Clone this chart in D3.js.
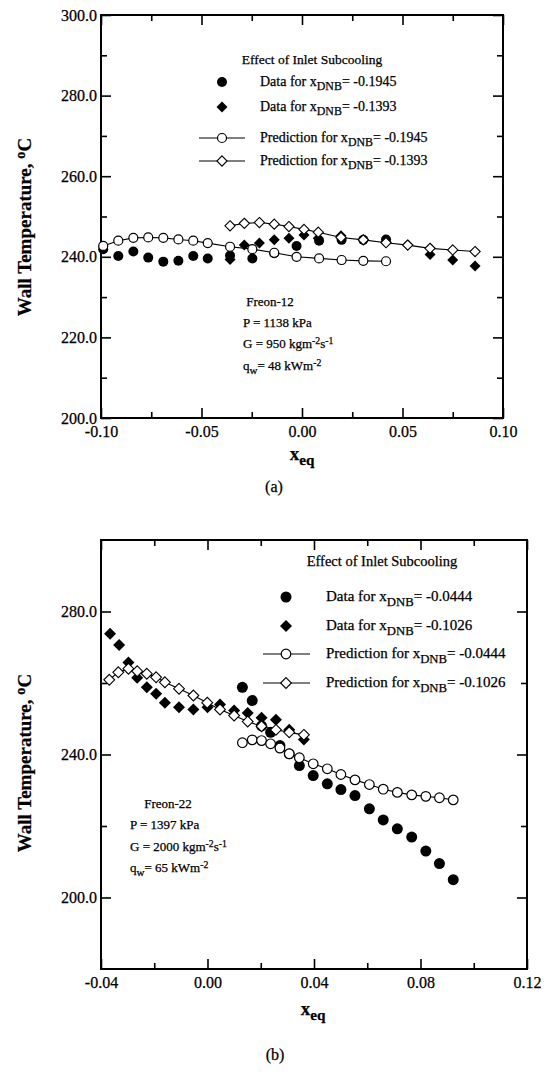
<!DOCTYPE html>
<html>
<head>
<meta charset="utf-8">
<script src="https://cdn.jsdelivr.net/npm/d3@7/dist/d3.min.js"></script>
<style>
  html, body { margin: 0; padding: 0; background: #fff; }
  svg { display: block; }
  text { font-family: "Liberation Serif", "Times New Roman", serif; fill: #000; stroke: #000; stroke-width: 0.25; }
</style>
</head>
<body>
<svg id="chart" width="549" height="1077"></svg>
<script>
// ---------------- DATA ----------------
// Panel (a): Freon-12
const aXTicks = [-0.10, -0.075, -0.05, -0.025, 0.00, 0.025, 0.05, 0.075, 0.10];
const aXLabels = ["-0.10", "", "-0.05", "", "0.00", "", "0.05", "", "0.10"];
const aYTicks = [200, 210, 220, 230, 240, 250, 260, 270, 280, 290, 300];
const aYLabels = ["200.0", "", "220.0", "", "240.0", "", "260.0", "", "280.0", "", "300.0"];

const aPredCircX = [-0.0989, -0.0914, -0.0839, -0.0765, -0.0690, -0.0615, -0.0541, -0.0469, -0.0358, -0.0247, -0.0138, -0.0027, 0.0085, 0.0197, 0.0305, 0.0418];
const aPredCircY = [242.7, 244.0, 244.7, 244.8, 244.7, 244.3, 244.0, 243.4, 242.5, 241.9, 241.0, 240.0, 239.6, 239.2, 239.0, 238.9];
const aDataCircX = [-0.0989, -0.0914, -0.0839, -0.0765, -0.0690, -0.0615, -0.0541, -0.0469, -0.0358, -0.0247, -0.0138, -0.0027, 0.0085, 0.0197, 0.0305, 0.0418];
const aDataCircY = [241.9, 240.2, 241.3, 239.8, 238.8, 239.0, 240.2, 239.6, 240.3, 239.6, 240.9, 242.7, 244.0, 244.2, 244.2, 244.3];

const aPredDiamX = [-0.0358, -0.0287, -0.0212, -0.0138, -0.0065, 0.0010, 0.0081, 0.0194, 0.0305, 0.0418, 0.0526, 0.0637, 0.0750, 0.0861];
const aPredDiamY = [247.7, 248.3, 248.5, 248.1, 247.5, 246.8, 246.1, 244.8, 244.2, 243.5, 242.9, 242.1, 241.7, 241.3];
const aDataDiamX = [-0.0358, -0.0287, -0.0212, -0.0138, -0.0065, 0.0010, 0.0081, 0.0194, 0.0305, 0.0418, 0.0526, 0.0637, 0.0750, 0.0861];
const aDataDiamY = [239.3, 242.9, 243.4, 244.2, 244.6, 245.4, 244.6, 245.2, 244.2, 243.7, 242.9, 240.6, 239.2, 237.7];

// Panel (b): Freon-22
const bXTicks = [-0.04, -0.02, 0.00, 0.02, 0.04, 0.06, 0.08, 0.10, 0.12];
const bXLabels = ["-0.04", "", "0.00", "", "0.04", "", "0.08", "", "0.12"];
const bYTicks = [200, 220, 240, 260, 280];
const bYLabels = ["200.0", "", "240.0", "", "280.0"];

const bPredCircX = [0.0131, 0.0168, 0.0203, 0.0237, 0.0272, 0.0307, 0.0345, 0.0397, 0.0450, 0.0501, 0.0554, 0.0608, 0.0660, 0.0713, 0.0767, 0.0820, 0.0871, 0.0923];
const bPredCircY = [243.3, 244.1, 243.9, 243.0, 241.8, 240.2, 239.1, 237.4, 236.0, 234.4, 232.9, 231.6, 230.3, 229.4, 228.7, 228.3, 227.9, 227.3];
const bDataCircX = [0.0131, 0.0168, 0.0203, 0.0237, 0.0272, 0.0307, 0.0345, 0.0397, 0.0450, 0.0501, 0.0554, 0.0608, 0.0660, 0.0713, 0.0767, 0.0820, 0.0871, 0.0923];
const bDataCircY = [258.8, 255.1, 248.0, 246.2, 242.5, 240.2, 236.9, 234.1, 231.8, 230.2, 228.5, 224.8, 221.7, 219.2, 216.9, 213.0, 209.5, 205.0];

const bPredDiamX = [-0.0369, -0.0335, -0.0297, -0.0264, -0.0228, -0.0193, -0.0160, -0.0107, -0.0053, -0.0001, 0.0047, 0.0100, 0.0151, 0.0203, 0.0257, 0.0307, 0.0362];
const bPredDiamY = [260.9, 263.0, 264.0, 263.3, 262.6, 261.6, 260.2, 258.4, 256.5, 254.5, 252.6, 250.9, 249.2, 247.9, 246.9, 246.2, 245.5];
const bDataDiamX = [-0.0366, -0.0332, -0.0297, -0.0264, -0.0228, -0.0193, -0.0160, -0.0107, -0.0053, 0.0000, 0.0047, 0.0100, 0.0151, 0.0203, 0.0257, 0.0307, 0.0362];
const bDataDiamY = [273.8, 270.6, 265.7, 261.5, 258.8, 257.0, 254.5, 253.2, 252.6, 253.2, 254.0, 252.3, 251.6, 250.3, 249.7, 246.9, 244.2];

const aLegend = ["-0.1945", "-0.1393"];
const bLegend = ["-0.0444", "-0.1026"];
// --------------------------------------

const svg = d3.select("#chart");
svg.append("rect").attr("width", 549).attr("height", 1077).attr("fill", "#fff");

function zip(xs, ys) { return xs.map((x, i) => [x, ys[i]]); }

// rich text: parts = [{t, sub, sup}]
function rich(g, x, y, parts, opts = {}) {
  const fs = opts.size || 13;
  const t = g.append("text").attr("x", x).attr("y", y)
    .attr("font-size", fs).attr("font-weight", opts.weight || "normal")
    .attr("text-anchor", opts.anchor || "start");
  if (opts.rotate) t.attr("transform", `rotate(${opts.rotate},${x},${y})`);
  parts.forEach(p => {
    const s = t.append("tspan").text(p.t);
    if (p.sub) s.attr("baseline-shift", "-35%").attr("font-size", fs * (opts.subScale || 0.85));
    if (p.sup) s.attr("baseline-shift", "45%").attr("font-size", fs * 0.75);
  });
  return t;
}

function diamondPath(cx, cy, r) {
  return `M${cx},${cy - r}L${cx + r},${cy}L${cx},${cy + r}L${cx - r},${cy}Z`;
}

function panel(cfg) {
  const g = svg.append("g");
  const x = d3.scaleLinear().domain(cfg.xDomain).range(cfg.xRange);
  const y = d3.scaleLinear().domain(cfg.yDomain).range(cfg.yRange);
  const [x0, x1] = cfg.xRange, [y0, y1] = [cfg.yRange[1], cfg.yRange[0]];

  // axes via d3 (inward ticks)
  const xb = d3.axisBottom(x).tickValues(cfg.xTicks).tickSizeOuter(0)
    .tickSizeInner(-6).tickPadding(8).tickFormat((d, i) => cfg.xLabels[i]);
  const gx = g.append("g").attr("transform", `translate(0,${cfg.yRange[0]})`).call(xb);
  const xt = d3.axisTop(x).tickValues(cfg.xTicks).tickSizeOuter(0).tickSizeInner(-6).tickFormat("");
  const gxt = g.append("g").attr("transform", `translate(0,${cfg.yRange[1]})`).call(xt);
  const yl = d3.axisLeft(y).tickValues(cfg.yTicks).tickSizeOuter(0)
    .tickSizeInner(-6).tickPadding(4).tickFormat((d, i) => cfg.yLabels[i]);
  const gy = g.append("g").attr("transform", `translate(${cfg.xRange[0]},0)`).call(yl);
  const yr = d3.axisRight(y).tickValues(cfg.yTicks).tickSizeOuter(0).tickSizeInner(-6).tickFormat("");
  const gyr = g.append("g").attr("transform", `translate(${cfg.xRange[1]},0)`).call(yr);

  [gx, gxt, gy, gyr].forEach(a => {
    a.select(".domain").remove();
    a.selectAll(".tick line").attr("stroke", "#000").attr("stroke-width", 1.6);
    a.selectAll(".tick text").attr("font-size", 16).attr("font-family", "Liberation Serif").attr("fill", "#000");
  });
  // major ticks longer
  [[gx, cfg.xLabels, "y2", -10], [gxt, cfg.xLabels, "y2", 10], [gy, cfg.yLabels, "x2", 10], [gyr, cfg.yLabels, "x2", -10]]
    .forEach(([a, labs, attr, v]) => {
      a.selectAll(".tick line").filter((d, i) => labs[i] !== "").attr(attr, v);
    });

  // frame
  g.append("rect").attr("x", x0).attr("y", y0).attr("width", x1 - x0).attr("height", y1 - y0)
    .attr("fill", "none").attr("stroke", "#000").attr("stroke-width", 2);

  const line = d3.line().x(d => x(d[0])).y(d => y(d[1]));
  const pc = zip(cfg.predCircX, cfg.predCircY);
  const pd = zip(cfg.predDiamX, cfg.predDiamY);
  const dc = zip(cfg.dataCircX, cfg.dataCircY);
  const dd = zip(cfg.dataDiamX, cfg.dataDiamY);

  g.append("path").attr("d", line(pc)).attr("fill", "none").attr("stroke", "#000").attr("stroke-width", 1.1);
  g.append("path").attr("d", line(pd)).attr("fill", "none").attr("stroke", "#000").attr("stroke-width", 1.1);

  g.selectAll(".dd").data(dd).enter().append("path")
    .attr("d", d => diamondPath(x(d[0]), y(d[1]), cfg.rDiam)).attr("fill", "#000");
  g.selectAll(".dc").data(dc).enter().append("circle")
    .attr("cx", d => x(d[0])).attr("cy", d => y(d[1])).attr("r", cfg.rFill).attr("fill", "#000");
  g.selectAll(".pc").data(pc).enter().append("circle")
    .attr("cx", d => x(d[0])).attr("cy", d => y(d[1])).attr("r", cfg.rOpen)
    .attr("fill", "#fff").attr("stroke", "#000").attr("stroke-width", 1.2);
  g.selectAll(".pd").data(pd).enter().append("path")
    .attr("d", d => diamondPath(x(d[0]), y(d[1]), cfg.rOpen + 0.6))
    .attr("fill", "#fff").attr("stroke", "#000").attr("stroke-width", 1.1);

  // legend
  const L = cfg.legend;
  g.append("text").attr("x", L.titleX).attr("y", L.titleY).attr("font-size", L.tfs)
    .attr("text-anchor", "middle").text("Effect of Inlet Subcooling");
  const labels = [
    [{ t: "Data for x" }, { t: "DNB", sub: true }, { t: "= " + cfg.legVals[0] }],
    [{ t: "Data for x" }, { t: "DNB", sub: true }, { t: "= " + cfg.legVals[1] }],
    [{ t: "Prediction for x" }, { t: "DNB", sub: true }, { t: "= " + cfg.legVals[0] }],
    [{ t: "Prediction for x" }, { t: "DNB", sub: true }, { t: "= " + cfg.legVals[1] }]
  ];
  L.rows.forEach((ry, i) => {
    const mx = L.markerX;
    if (i === 0) g.append("circle").attr("cx", mx).attr("cy", ry).attr("r", cfg.rFill).attr("fill", "#000");
    if (i === 1) g.append("path").attr("d", diamondPath(mx, ry, cfg.rDiam)).attr("fill", "#000");
    if (i >= 2) g.append("line").attr("x1", L.lineX0).attr("x2", L.lineX1).attr("y1", ry).attr("y2", ry)
      .attr("stroke", "#000").attr("stroke-width", 1.1);
    if (i === 2) g.append("circle").attr("cx", mx).attr("cy", ry).attr("r", cfg.rOpen)
      .attr("fill", "#fff").attr("stroke", "#000").attr("stroke-width", 1.2);
    if (i === 3) g.append("path").attr("d", diamondPath(mx, ry, cfg.rOpen + 0.6))
      .attr("fill", "#fff").attr("stroke", "#000").attr("stroke-width", 1.1);
    rich(g, L.textX, ry + 4, labels[i], { size: L.fs });
  });

  // conditions annotation
  const A = cfg.annot;
  g.append("text").attr("x", A.titleX).attr("y", A.y[0]).attr("font-size", A.fs)
    .attr("text-anchor", "middle").text(A.fluid);
  rich(g, A.x, A.y[1], [{ t: "P = " + A.P + " kPa" }], { size: A.fs });
  rich(g, A.x, A.y[2], [{ t: "G = " + A.G + " kgm" }, { t: "-2", sup: true }, { t: "s" }, { t: "-1", sup: true }], { size: A.fs });
  rich(g, A.x, A.y[3], [{ t: "q" }, { t: "w", sub: true }, { t: "= " + A.q + " kWm" }, { t: "-2", sup: true }], { size: A.fs });

  // axis titles
  rich(g, cfg.yTitle[0], cfg.yTitle[1], [{ t: "Wall Temperature, " }, { t: "o", sup: true }, { t: "C" }],
    { size: 19, weight: "bold", anchor: "middle", rotate: -90 });
  rich(g, cfg.xTitle[0], cfg.xTitle[1], [{ t: "x" }, { t: "eq", sub: true }],
    { size: 19, weight: "bold", anchor: "middle", subScale: 0.8 });
  g.append("text").attr("x", cfg.tag[0]).attr("y", cfg.tag[1]).attr("font-size", 16)
    .attr("text-anchor", "middle").text(cfg.tagText);
}

panel({
  xDomain: [-0.10, 0.10], xRange: [101, 503],
  yDomain: [200, 300], yRange: [418, 15],
  xTicks: aXTicks, xLabels: aXLabels, yTicks: aYTicks, yLabels: aYLabels,
  predCircX: aPredCircX, predCircY: aPredCircY, dataCircX: aDataCircX, dataCircY: aDataCircY,
  predDiamX: aPredDiamX, predDiamY: aPredDiamY, dataDiamX: aDataDiamX, dataDiamY: aDataDiamY,
  rFill: 5, rDiam: 5.5, rOpen: 4.5,
  legVals: aLegend,
  legend: { titleX: 312, titleY: 64, tfs: 13.5, fs: 14, markerX: 222, lineX0: 199, lineX1: 245, textX: 260, rows: [82, 107, 138, 161] },
  annot: { fluid: "Freon-12", P: "1138", G: "950", q: "48", titleX: 270, x: 243, y: [306, 327, 348, 370], fs: 13 },
  yTitle: [31, 227], xTitle: [302, 460], tag: [274, 492], tagText: "(a)"
});

panel({
  xDomain: [-0.04, 0.12], xRange: [101, 527],
  yDomain: [180, 300], yRange: [969, 540],
  xTicks: bXTicks, xLabels: bXLabels, yTicks: bYTicks, yLabels: bYLabels,
  predCircX: bPredCircX, predCircY: bPredCircY, dataCircX: bDataCircX, dataCircY: bDataCircY,
  predDiamX: bPredDiamX, predDiamY: bPredDiamY, dataDiamX: bDataDiamX, dataDiamY: bDataDiamY,
  rFill: 5.5, rDiam: 6, rOpen: 4.8,
  legVals: bLegend,
  legend: { titleX: 382, titleY: 566, tfs: 14.5, fs: 15, markerX: 286, lineX0: 263, lineX1: 310, textX: 326, rows: [597, 626, 654, 683] },
  annot: { fluid: "Freon-22", P: "1397", G: "2000", q: "65", titleX: 168, x: 130, y: [808, 829, 851, 872], fs: 13 },
  yTitle: [31, 763], xTitle: [313, 1015], tag: [275, 1060], tagText: "(b)"
});
</script>
</body>
</html>
